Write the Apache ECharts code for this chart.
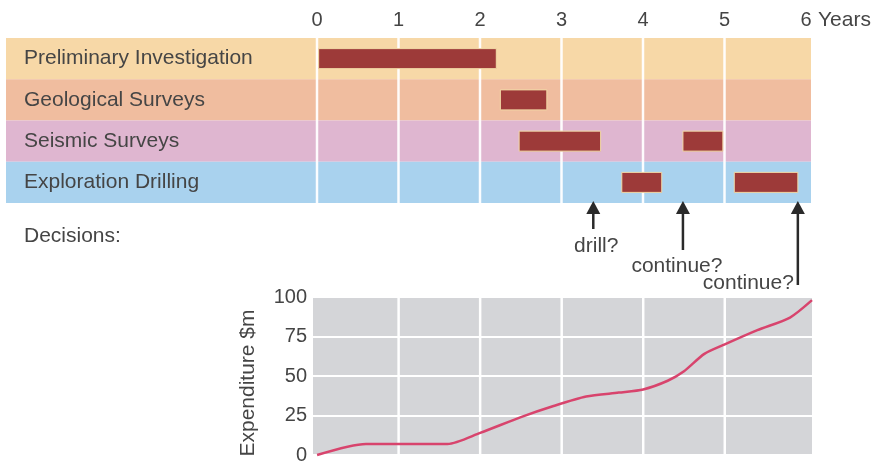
<!DOCTYPE html>
<html>
<head>
<meta charset="utf-8">
<script src="https://cdn.jsdelivr.net/npm/echarts@6/dist/echarts.min.js"></script>
<style>html,body{margin:0;padding:0;background:#fff}#c{width:876px;height:465px}</style>
</head>
<body>
<div id="c"></div>
<script>
// ---- data ----
const activities = ['Preliminary Investigation', 'Geological Surveys', 'Seismic Surveys', 'Exploration Drilling'];
const rowColors = ['#f7d8a7', '#f0bd9f', '#dfb6d0', '#a9d2ee'];
// [activity index, start year, end year]
const tasks = [
  [0, 0.02, 2.2],
  [1, 2.25, 2.82],
  [2, 2.48, 3.48],
  [2, 4.49, 4.98],
  [3, 3.74, 4.23],
  [3, 5.12, 5.9]
];
const yearTicks = [0, 1, 2, 3, 4, 5];
const decisionYears = [3.39, 4.49, 5.9];
const decisionLabels = ['drill?', 'continue?', 'continue?'];
const expYears = [0, 0.6, 1.6, 2.0, 2.5, 2.9, 3.3, 3.7, 4.0, 4.3, 4.5, 4.75, 5.0, 5.4, 5.8, 6.07];
const expValues = [0, 7, 7, 14, 24, 31, 37, 39.5, 41.5, 47, 53, 64, 70, 79, 87, 98];

const FONT = '"Liberation Sans", Arial, sans-serif';
const TXT = '#454545';
const FS = 21;

const chart = echarts.init(document.getElementById('c'));
const option = {
  animation: false,
  textStyle: { fontFamily: FONT },
  grid: [
    { left: 317, right: 70, top: 38, height: 165 },
    { left: 313, right: 64, top: 297, height: 163, show: true, backgroundColor: '#d4d5d8', borderWidth: 0 }
  ],
  xAxis: [
    {
      gridIndex: 0, type: 'value', position: 'top', min: 0, max: 6, interval: 1, z: 10,
      axisLine: { show: false }, axisTick: { show: false }, splitLine: { show: false },
      axisLabel: { fontSize: 20, color: TXT, margin: 8, fontFamily: FONT },
      name: 'Years', nameLocation: 'end', nameGap: 12,
      nameTextStyle: { fontSize: FS, color: TXT, verticalAlign: 'bottom', padding: [0, 0, 7, 0], fontFamily: FONT }
    },
    {
      gridIndex: 1, type: 'value', min: -0.05, max: 6.07, show: false
    }
  ],
  yAxis: [
    {
      gridIndex: 0, type: 'category', data: activities, inverse: true, z: 10,
      axisLine: { show: false }, axisTick: { show: false }, splitLine: { show: false },
      axisLabel: { align: 'left', margin: 293, fontSize: FS, color: TXT, fontFamily: FONT }
    },
    {
      gridIndex: 1, type: 'value', min: 0, max: 100, interval: 25,
      axisLine: { show: false }, axisTick: { show: false },
      splitLine: { show: true, lineStyle: { color: '#ffffff', width: 2 } },
      axisLabel: { fontSize: 20, color: TXT, margin: 6, fontFamily: FONT, padding: [3, 0, 0, 0] },
      name: 'Expenditure $m', nameLocation: 'middle', nameGap: 54, nameRotate: 90,
      nameTextStyle: { fontSize: FS, color: TXT, fontFamily: FONT, padding: [0, 14, 0, 0] }
    }
  ],
  graphic: [
    { type: 'text', left: 24, top: 226, style: { text: 'Decisions:', fontSize: FS, fill: TXT, fontFamily: FONT } }
  ],
  series: [
    {
      type: 'custom', xAxisIndex: 0, yAxisIndex: 0, clip: false, z: 1, silent: true,
      data: activities.map((a, i) => [0, i]),
      encode: { x: 0, y: 1 },
      renderItem: function (params, api) {
        const cs = params.coordSys;
        const idx = api.value(1);
        const c = api.coord([0, idx]);
        const h = api.size([0, 1])[1];
        return {
          type: 'rect',
          shape: { x: cs.x - 311, y: c[1] - h / 2, width: cs.width + 316, height: h },
          style: { fill: rowColors[idx] }
        };
      }
    },
    {
      type: 'custom', xAxisIndex: 0, yAxisIndex: 0, clip: false, z: 2, silent: true,
      data: yearTicks.map(t => [t, 0]),
      encode: { x: 0, y: 1 },
      renderItem: function (params, api) {
        const cs = params.coordSys;
        const x = api.coord([api.value(0), 0])[0];
        return {
          type: 'line',
          shape: { x1: x, y1: cs.y, x2: x, y2: cs.y + cs.height },
          style: { stroke: 'rgba(255,255,255,0.95)', lineWidth: 2.5 }
        };
      }
    },
    {
      type: 'custom', xAxisIndex: 0, yAxisIndex: 0, clip: false, z: 3, silent: true,
      data: tasks,
      encode: { x: [1, 2], y: 0 },
      renderItem: function (params, api) {
        const s = api.coord([api.value(1), api.value(0)]);
        const e = api.coord([api.value(2), api.value(0)]);
        const bh = 20;
        return {
          type: 'rect',
          shape: { x: s[0], y: s[1] - bh / 2, width: e[0] - s[0], height: bh },
          style: { fill: '#9d3a39', stroke: '#f2d9a6', lineWidth: 1 }
        };
      }
    },
    {
      type: 'custom', xAxisIndex: 0, yAxisIndex: 0, clip: false, z: 4, silent: true,
      data: decisionYears.map((y, i) => [y, i]),
      encode: { x: 0 },
      renderItem: function (params, api) {
        const cs = params.coordSys;
        const i = api.value(1);
        const x = api.coord([api.value(0), 0])[0];
        const tip = cs.y + cs.height - 2;
        const lens = [28, 49, 84];
        const bottom = tip + lens[i];
        const children = [
          { type: 'line', shape: { x1: x, y1: tip + 8, x2: x, y2: bottom }, style: { stroke: '#2a2a2a', lineWidth: 2.5 } },
          { type: 'polygon', shape: { points: [[x, tip], [x - 7, tip + 13], [x + 7, tip + 13]] }, style: { fill: '#2a2a2a' } }
        ];
        let label;
        if (i === 0) {
          label = { x: x + 3, y: bottom + 17, align: 'center', verticalAlign: 'middle' };
        } else if (i === 1) {
          label = { x: x - 6, y: bottom + 16, align: 'center', verticalAlign: 'middle' };
        } else {
          label = { x: x - 4, y: bottom - 2, align: 'right', verticalAlign: 'middle' };
        }
        children.push({
          type: 'text',
          style: { text: decisionLabels[i], x: label.x, y: label.y, align: label.align, verticalAlign: label.verticalAlign,
                   fontSize: FS, fill: TXT, fontFamily: FONT }
        });
        return { type: 'group', children: children };
      }
    },
    {
      type: 'custom', xAxisIndex: 1, yAxisIndex: 1, clip: false, z: 2, silent: true,
      data: yearTicks.slice(1).map(t => [t, 0]),
      encode: { x: 0, y: 1 },
      renderItem: function (params, api) {
        const cs = params.coordSys;
        const x = api.coord([api.value(0), 0])[0];
        return {
          type: 'line',
          shape: { x1: x, y1: cs.y, x2: x, y2: cs.y + cs.height },
          style: { stroke: '#ffffff', lineWidth: 2.5 }
        };
      }
    },
    {
      type: 'line', xAxisIndex: 1, yAxisIndex: 1, z: 5, silent: true,
      data: expYears.map((x, i) => [x, expValues[i]]),
      symbol: 'none', smooth: 0.25, clip: false,
      lineStyle: { color: '#d8446d', width: 2.5 }
    }
  ]
};
chart.setOption(option);
</script>
</body>
</html>
